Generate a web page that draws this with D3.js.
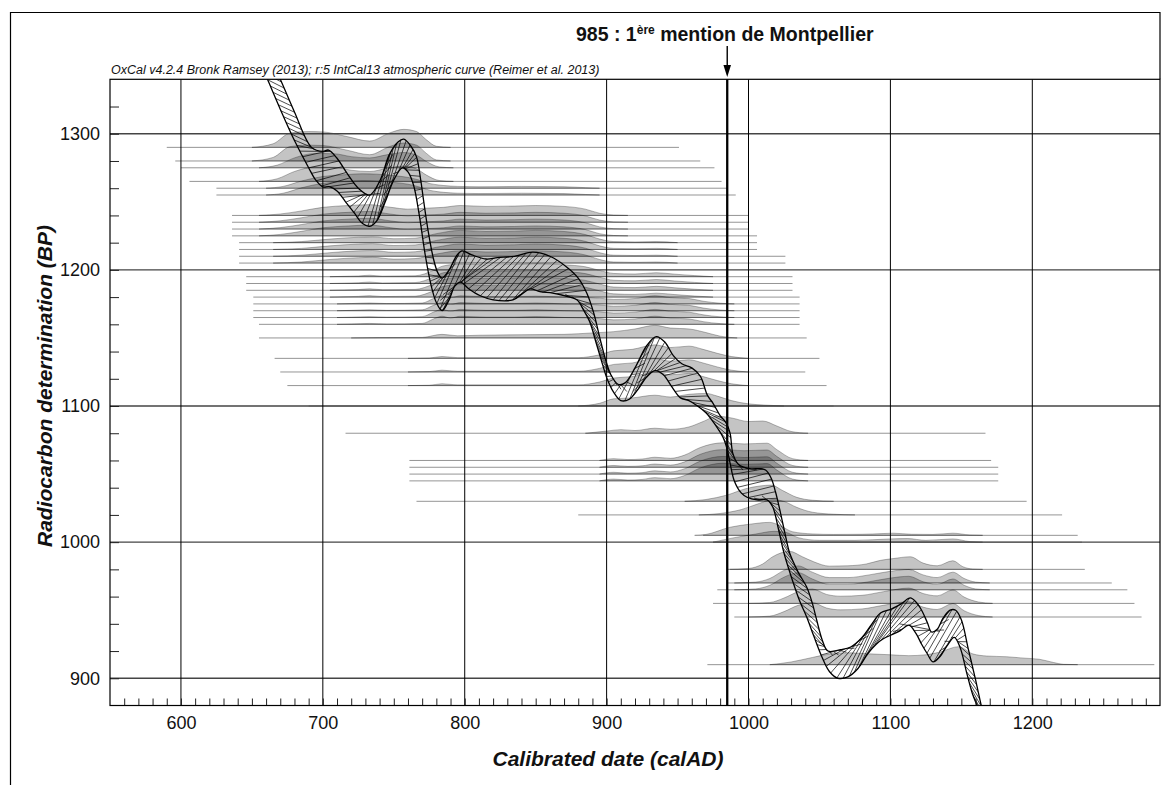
<!DOCTYPE html>
<html>
<head>
<meta charset="utf-8">
<title>OxCal multiplot</title>
<script src="https://cdnjs.cloudflare.com/ajax/libs/d3/7.8.5/d3.min.js"></script>
<style>
    body { margin: 0; background: #fff; }
    #chart svg { display: block; font-family: "Liberation Sans", Arial, sans-serif; }
</style>
</head>
<body>
<div id="chart"></div>
<script>
// axis ticks
var xTicks = [600, 700, 800, 900, 1000, 1100, 1200];
var yTicks = [900, 1000, 1100, 1200, 1300];
var markYear = 985;

// IntCal13 band, +1 sigma edge and -1 sigma edge (calAD, BP)
var upperYears = [660, 670, 680, 692, 700, 704, 710, 717, 725, 733, 740, 747, 753, 757, 762, 766, 769, 771, 774, 778, 781, 784,
    789, 794, 798, 805, 815, 823, 835, 848, 860, 872, 880, 886, 891, 895, 899, 903, 908, 913, 920, 928, 935, 941, 947, 953,
    960, 966, 971, 975, 980, 984, 987, 989, 993, 1001, 1008, 1012, 1016, 1019, 1022, 1026, 1029, 1035, 1041, 1045, 1048,
    1052, 1056, 1065, 1072, 1080, 1087, 1093, 1101, 1108, 1114, 1118, 1122, 1126, 1129, 1133, 1137, 1142, 1146, 1150,
    1155, 1160, 1164, 1168];
var upperBP = [1362, 1340, 1316, 1290, 1287, 1288, 1282, 1271, 1260, 1255, 1265, 1285, 1294, 1296, 1291, 1283, 1266, 1251, 1230, 1208, 1198, 1194,
    1200, 1210, 1214, 1211, 1208, 1209, 1210, 1213, 1210, 1202, 1194, 1183, 1168, 1151, 1135, 1123, 1116, 1117, 1128, 1144, 1151, 1147, 1137, 1131,
    1128, 1122, 1108, 1102, 1093, 1088, 1080, 1065, 1057, 1054, 1054, 1053, 1047, 1037, 1024, 1005, 992, 978, 967, 955, 943,
    928, 920, 921, 923, 930, 940, 948, 951, 955, 959, 956, 950, 941, 934, 936, 944, 950, 950, 943,
    921, 899, 880, 862];
var lowerYears = [655, 661, 670, 680, 690, 695, 700, 705, 710, 716, 722, 728, 733, 738, 744, 750, 756, 760, 764, 768, 772, 776, 780, 784,
    789, 793, 797, 803, 811, 820, 834, 840, 846, 853, 862, 870, 879, 884, 888, 893, 897, 900, 905, 910, 916, 922, 928, 934,
    940, 946, 952, 958, 964, 970, 976, 982, 985, 987, 990, 995, 999, 1006, 1013, 1017, 1021, 1025, 1030, 1036, 1041, 1046,
    1052, 1057, 1063, 1070, 1077, 1084, 1090, 1095, 1101, 1107, 1113, 1118, 1122, 1126, 1130, 1135, 1140, 1145, 1149,
    1154, 1158, 1161, 1165];
var lowerBP = [1355, 1340, 1318, 1295, 1275, 1266, 1261, 1261, 1258, 1250, 1242, 1234, 1232, 1236, 1250, 1266, 1275, 1272, 1262, 1240, 1212, 1190, 1176, 1170,
    1178, 1188, 1191, 1186, 1181, 1178, 1178, 1182, 1186, 1184, 1183, 1181, 1178, 1170, 1162, 1145, 1131, 1121, 1110, 1104, 1105, 1112, 1121, 1126,
    1123, 1114, 1106, 1104, 1100, 1095, 1087, 1077, 1068, 1058, 1045, 1036, 1033, 1031, 1031, 1026, 1010, 992, 975, 957, 945, 931,
    915, 905, 900, 901, 907, 918, 925, 929, 932, 935, 939, 933, 925, 918, 912, 916, 924, 930, 923,
    903, 888, 880, 866];

// calibrated distributions: [calAD, relative height]
var shapeA1 = [[650, 0], [665, 0.2], [677, 0.8], [690, 0.88], [700, 0.86], [717, 0.6], [733, 0.35], [747, 0.8], [757, 1], [766, 0.88], [773, 0.42], [780, 0.06], [790, 0]];
var shapeA2 = [[655, 0], [668, 0.15], [680, 0.55], [695, 0.8], [708, 0.78], [720, 0.62], [733, 0.55], [745, 0.72], [757, 0.85], [766, 0.7], [773, 0.35], [782, 0.05], [792, 0]];
var shapeA3 = [[660, 0], [672, 0.1], [685, 0.4], [700, 0.65], [715, 0.75], [728, 0.8], [738, 0.78], [750, 0.7], [760, 0.6], [768, 0.45], [776, 0.25], [785, 0.15], [795, 0.1], [810, 0.08], [840, 0.1], [870, 0.08], [885, 0.03], [895, 0]];
var shapeB1 = [[655, 0], [670, 0.08], [685, 0.25], [700, 0.45], [718, 0.55], [733, 0.6], [748, 0.45], [760, 0.35], [772, 0.4], [785, 0.45], [797, 0.55], [815, 0.5], [835, 0.52], [850, 0.55], [870, 0.5], [885, 0.35], [895, 0.12], [905, 0.02], [915, 0]];
var shapeB2 = [[665, 0], [685, 0.06], [705, 0.2], [725, 0.3], [735, 0.32], [750, 0.22], [765, 0.25], [780, 0.5], [797, 0.68], [815, 0.62], [835, 0.64], [850, 0.68], [870, 0.62], [885, 0.45], [895, 0.2], [905, 0.06], [920, 0.04], [935, 0.06], [950, 0]];
var shapeB3 = [[705, 0], [715, 0.02], [725, 0.04], [733, 0.08], [742, 0.03], [765, 0.05], [778, 0.35], [785, 0.6], [797, 0.7], [815, 0.66], [835, 0.68], [850, 0.72], [870, 0.66], [885, 0.55], [895, 0.35], [905, 0.18], [920, 0.15], [935, 0.22], [948, 0.14], [962, 0.06], [975, 0]];
var shapeB4 = [[710, 0], [720, 0.02], [733, 0.05], [745, 0.02], [770, 0.05], [778, 0.3], [784, 0.45], [790, 0.35], [797, 0.45], [815, 0.4], [835, 0.4], [850, 0.43], [870, 0.38], [885, 0.36], [895, 0.32], [905, 0.25], [920, 0.3], [934, 0.45], [945, 0.35], [958, 0.3], [968, 0.15], [980, 0.04], [990, 0]];
var shapeC1 = [[720, 0], [740, 0.02], [770, 0.03], [784, 0.2], [795, 0.12], [810, 0.15], [840, 0.18], [870, 0.2], [890, 0.28], [905, 0.35], [920, 0.5], [934, 0.7], [945, 0.55], [958, 0.5], [970, 0.3], [980, 0.1], [992, 0]];
var shapeC2 = [[760, 0], [775, 0.02], [784, 0.1], [795, 0.04], [880, 0.04], [895, 0.2], [905, 0.42], [918, 0.5], [934, 0.75], [945, 0.6], [958, 0.68], [968, 0.5], [978, 0.28], [988, 0.1], [1000, 0]];
var shapeC3 = [[880, 0], [895, 0.15], [905, 0.4], [918, 0.45], [934, 0.6], [945, 0.5], [958, 0.65], [970, 0.7], [978, 0.55], [988, 0.3], [1000, 0.12], [1012, 0.05], [1025, 0]];
var shapeD = [[885, 0], [900, 0.12], [910, 0.2], [920, 0.15], [934, 0.28], [945, 0.22], [958, 0.35], [968, 0.65], [978, 0.95], [988, 0.85], [1000, 0.65], [1010, 0.68], [1020, 0.4], [1030, 0.1], [1042, 0]];
var shapeE = [[895, 0], [905, 0.1], [915, 0.05], [925, 0.08], [934, 0.18], [945, 0.12], [955, 0.3], [966, 0.72], [982, 0.98], [997, 0.92], [1013, 0.96], [1020, 0.6], [1031, 0.1], [1042, 0]];
var shapeF = [[955, 0], [970, 0.1], [985, 0.35], [998, 0.7], [1008, 0.85], [1016, 0.9], [1024, 0.6], [1034, 0.22], [1045, 0.06], [1060, 0]];
var shapeG = [[965, 0], [980, 0.08], [995, 0.3], [1008, 0.65], [1017, 0.85], [1025, 0.75], [1034, 0.42], [1045, 0.15], [1060, 0.04], [1075, 0]];
var shapeH = [[962, 0], [970, 0.05], [987, 0.45], [1001, 0.62], [1015, 0.72], [1022, 0.55], [1031, 0.2], [1045, 0.08], [1060, 0.05], [1080, 0.06], [1095, 0.1], [1102, 0.12], [1115, 0.06], [1130, 0.05], [1144, 0.12], [1156, 0.02], [1165, 0]];
var shapeH2 = [[975, 0], [990, 0.25], [1005, 0.45], [1018, 0.6], [1026, 0.55], [1035, 0.25], [1050, 0.1], [1075, 0.1], [1100, 0.18], [1112, 0.2], [1125, 0.1], [1144, 0.18], [1156, 0.03], [1165, 0]];
var shapeI1 = [[985, 0], [1000, 0.05], [1010, 0.3], [1017, 0.7], [1029, 1.0], [1038, 0.7], [1046, 0.42], [1057, 0.18], [1070, 0.2], [1083, 0.3], [1093, 0.5], [1102, 0.6], [1114, 0.7], [1123, 0.35], [1133, 0.2], [1144, 0.48], [1151, 0.15], [1158, 0.02], [1165, 0]];
var shapeI2 = [[990, 0], [1005, 0.05], [1015, 0.25], [1025, 0.7], [1035, 0.95], [1045, 0.6], [1057, 0.3], [1070, 0.3], [1085, 0.45], [1100, 0.65], [1113, 0.75], [1123, 0.45], [1133, 0.3], [1144, 0.6], [1152, 0.25], [1160, 0.05], [1170, 0]];
var shapeI3 = [[1000, 0], [1015, 0.05], [1025, 0.3], [1035, 0.65], [1045, 0.8], [1055, 0.5], [1065, 0.4], [1080, 0.45], [1095, 0.65], [1113, 0.85], [1123, 0.55], [1133, 0.42], [1144, 0.75], [1152, 0.35], [1162, 0.08], [1172, 0]];
var shapeJ = [[1015, 0], [1030, 0.15], [1045, 0.4], [1058, 0.6], [1070, 0.66], [1085, 0.6], [1100, 0.55], [1113, 0.5], [1125, 0.55], [1135, 0.7], [1148, 1.0], [1158, 0.6], [1168, 0.48], [1182, 0.44], [1195, 0.36], [1205, 0.3], [1215, 0.12], [1222, 0.02], [1232, 0]];

// one entry per radiocarbon date
var sampleBP = [1290, 1280, 1275, 1265, 1260, 1255,
    1240, 1235, 1230, 1225, 1220, 1215, 1210, 1205,
    1195, 1190, 1185, 1180, 1175, 1170, 1165, 1160, 1150,
    1135, 1125, 1115, 1100,
    1080, 1060, 1055, 1050, 1045, 1030, 1020, 1005, 1000,
    980, 970, 965, 955, 945, 910];
var lineFrom = [590, 596, 600, 606, 625, 625,
    636, 636, 636, 636, 641, 641, 641, 641,
    646, 646, 646, 651, 651, 651, 651, 655, 655,
    666, 670, 675, 690,
    716, 761, 761, 761, 761, 766, 880, 968, 975,
    987, 985, 978, 975, 990, 971];
var lineTo = [951, 966, 976, 981, 985, 991,
    1000, 1000, 1000, 1006, 1006, 1006, 1026, 1026,
    1031, 1031, 1031, 1036, 1036, 1036, 1036, 1036, 1041,
    1050, 1040, 1055, 1060,
    1167, 1171, 1176, 1176, 1176, 1196, 1221, 1232, 1235,
    1237, 1256, 1267, 1272, 1277, 1286];
var sampleShape = [shapeA1, shapeA1, shapeA2, shapeA2, shapeA3, shapeA3,
    shapeB1, shapeB1, shapeB1, shapeB1, shapeB2, shapeB2, shapeB2, shapeB2,
    shapeB3, shapeB3, shapeB3, shapeB3, shapeB4, shapeB4, shapeB4, shapeB4, shapeC1,
    shapeC2, shapeC2, shapeC2, shapeC3,
    shapeD, shapeE, shapeE, shapeE, shapeE, shapeF, shapeG, shapeH, shapeH2,
    shapeI1, shapeI2, shapeI2, shapeI3, shapeI3, shapeJ];

var plotLeft = 110, plotRight = 1160, plotTop = 79.3, plotBottom = 705.5;

var svg = d3.select("#chart").append("svg")
    .attr("width", 1171)
    .attr("height", 785);

var x = d3.scaleLinear().domain([550, 1290]).range([plotLeft, plotRight]);
var y = d3.scaleLinear().domain([880, 1340]).range([plotBottom, plotTop]);
var hgt = d3.scaleLinear().domain([0, 1]).range([0, 18]);

var defs = svg.append("defs");
defs.append("clipPath").attr("id", "plot-clip")
    .append("rect")
    .attr("x", plotLeft).attr("y", plotTop)
    .attr("width", plotRight - plotLeft).attr("height", plotBottom - plotTop);

// outer frame
svg.append("path")
    .attr("d", "M10.5,790V12.5H" + plotRight + "V" + plotTop)
    .attr("fill", "none")
    .attr("stroke", "#000")
    .attr("stroke-width", 1.2);

var plot = svg.append("g").attr("clip-path", "url(#plot-clip)");

// distributions
var dist = plot.append("g");
sampleBP.forEach(function (bp, i) {
    var base = y(bp);
    var area = d3.area()
        .x(function (d) { return x(d[0]); })
        .y0(base)
        .y1(function (d) { return base - hgt(d[1]); })
        .curve(d3.curveMonotoneX);
    dist.append("line")
        .attr("x1", x(lineFrom[i])).attr("x2", x(lineTo[i]))
        .attr("y1", base).attr("y2", base)
        .attr("stroke", "#959595")
        .attr("stroke-width", 1);
    dist.append("path")
        .attr("d", area(sampleShape[i]))
        .attr("fill", "#000")
        .attr("fill-opacity", 0.23)
        .attr("stroke", "#000")
        .attr("stroke-opacity", 0.35)
        .attr("stroke-width", 0.8);
});

// grid
plot.selectAll(".hgrid").data(yTicks).enter().append("line")
    .attr("x1", plotLeft).attr("x2", plotRight)
    .attr("y1", function (d) { return y(d); })
    .attr("y2", function (d) { return y(d); })
    .attr("stroke", "#444")
    .attr("stroke-width", 1.4);
plot.selectAll(".vgrid").data(xTicks).enter().append("line")
    .attr("x1", function (d) { return x(d); })
    .attr("x2", function (d) { return x(d); })
    .attr("y1", plotTop).attr("y2", plotBottom)
    .attr("stroke", "#000")
    .attr("stroke-width", 1);

// calibration curve band
function pts(years, bps) {
    return years.map(function (t, i) { return [x(t), y(bps[i])]; });
}
var curveLine = d3.line().curve(d3.curveCatmullRom.alpha(0.5));
var upperPts = pts(upperYears, upperBP);
var lowerPts = pts(lowerYears, lowerBP);
var upperD = curveLine(upperPts);
var lowerD = curveLine(lowerPts);
var bandD = upperD + "L" + curveLine(lowerPts.slice().reverse()).slice(1) + "Z";

defs.append("clipPath").attr("id", "band-clip")
    .append("path").attr("d", bandD);

// hatching: walk along the middle of the band, join the lower edge
// to the upper edge a little further along
var upAt = d3.scaleLinear().domain(upperYears).range(upperBP);
var loAt = d3.scaleLinear().domain(lowerYears).range(lowerBP);
var walk = [], run = 0, prev = null;
for (var t = 650; t <= 1172; t += 0.25) {
    var mx = x(t), my = (y(upAt(t)) + y(loAt(t))) / 2;
    if (prev) run += Math.hypot(mx - prev[0], my - prev[1]);
    walk.push({ t: t, s: run });
    prev = [mx, my];
}
var yearAt = d3.scaleLinear().domain(walk.map(function (d) { return d.s; })).range(walk.map(function (d) { return d.t; }));
var hatch = [];
for (var s = 0; s < run - 44; s += 6.5) {
    var t1 = yearAt(s), t2 = yearAt(s + 40);
    var px = x(t1), py = y(loAt(t1)), qx = x(t2), qy = y(upAt(t2));
    var dx = qx - px, dy = qy - py;
    hatch.push([px - dx * 0.4, py - dy * 0.4, qx + dx * 0.4, qy + dy * 0.4]);
}

var band = plot.append("g");
band.append("g")
    .attr("clip-path", "url(#band-clip)")
    .selectAll("line").data(hatch).enter().append("line")
    .attr("x1", function (d) { return d[0]; })
    .attr("y1", function (d) { return d[1]; })
    .attr("x2", function (d) { return d[2]; })
    .attr("y2", function (d) { return d[3]; })
    .attr("stroke", "#000")
    .attr("stroke-width", 0.7);
band.append("path")
    .attr("d", upperD).attr("fill", "none").attr("stroke", "#000").attr("stroke-width", 1.3);
band.append("path")
    .attr("d", lowerD).attr("fill", "none").attr("stroke", "#000").attr("stroke-width", 1.3);

// axes
var axisFont = function (g) {
    g.select(".domain").remove();
    g.selectAll("text")
        .attr("font-family", "Liberation Sans, Arial, sans-serif")
        .attr("font-size", 18)
        .attr("fill", "#111");
};
svg.append("g")
    .attr("transform", "translate(0," + plotBottom + ")")
    .call(d3.axisTop(x).tickValues(d3.range(560, 1290, 10)).tickSize(7).tickFormat(""))
    .call(axisFont)
    .selectAll("line").attr("stroke", "#222");
svg.append("g")
    .attr("transform", "translate(0," + plotBottom + ")")
    .call(d3.axisBottom(x).tickValues(xTicks).tickSize(0).tickPadding(11).tickFormat(d3.format("d")))
    .call(axisFont);
svg.append("g")
    .attr("transform", "translate(" + plotLeft + ",0)")
    .call(d3.axisRight(y).tickValues(d3.range(900, 1340, 20)).tickSize(9).tickFormat(""))
    .call(axisFont)
    .selectAll("line").attr("stroke", "#222");
svg.append("g")
    .attr("transform", "translate(" + plotLeft + ",0)")
    .call(d3.axisLeft(y).tickValues(yTicks).tickSize(0).tickPadding(10).tickFormat(d3.format("d")))
    .call(axisFont);

svg.append("rect")
    .attr("x", plotLeft).attr("y", plotTop)
    .attr("width", plotRight - plotLeft).attr("height", plotBottom - plotTop)
    .attr("fill", "none")
    .attr("stroke", "#000")
    .attr("stroke-width", 1.2);

// 985 marker
svg.append("line")
    .attr("x1", x(markYear)).attr("x2", x(markYear))
    .attr("y1", plotTop).attr("y2", plotBottom)
    .attr("stroke", "#000")
    .attr("stroke-width", 2.3);
svg.append("line")
    .attr("x1", x(markYear)).attr("x2", x(markYear))
    .attr("y1", 46).attr("y2", 68)
    .attr("stroke", "#000")
    .attr("stroke-width", 1.4);
svg.append("path")
    .attr("d", "M" + (x(markYear) - 3.8) + ",65L" + (x(markYear) + 3.8) + ",65L" + x(markYear) + ",77Z")
    .attr("fill", "#000");

// texts
var title = svg.append("text")
    .attr("x", 576).attr("y", 40.5)
    .attr("font-size", 19.5)
    .attr("font-weight", "bold")
    .attr("fill", "#111");
title.append("tspan").text("985 : 1");
title.append("tspan").attr("font-size", 12).attr("dy", -7).text("ère");
title.append("tspan").attr("dy", 7).text(" mention de Montpellier");

svg.append("text")
    .attr("x", 111).attr("y", 74)
    .attr("font-size", 12.5)
    .attr("font-style", "italic")
    .attr("fill", "#111")
    .text("OxCal v4.2.4 Bronk Ramsey (2013); r:5 IntCal13 atmospheric curve (Reimer et al. 2013)");

svg.append("text")
    .attr("transform", "translate(52,386) rotate(-90)")
    .attr("text-anchor", "middle")
    .attr("font-size", 21)
    .attr("font-weight", "bold")
    .attr("font-style", "italic")
    .attr("fill", "#111")
    .text("Radiocarbon determination (BP)");

svg.append("text")
    .attr("x", 608).attr("y", 766)
    .attr("text-anchor", "middle")
    .attr("font-size", 21)
    .attr("font-weight", "bold")
    .attr("font-style", "italic")
    .attr("fill", "#111")
    .text("Calibrated date (calAD)");
</script>
</body>
</html>
